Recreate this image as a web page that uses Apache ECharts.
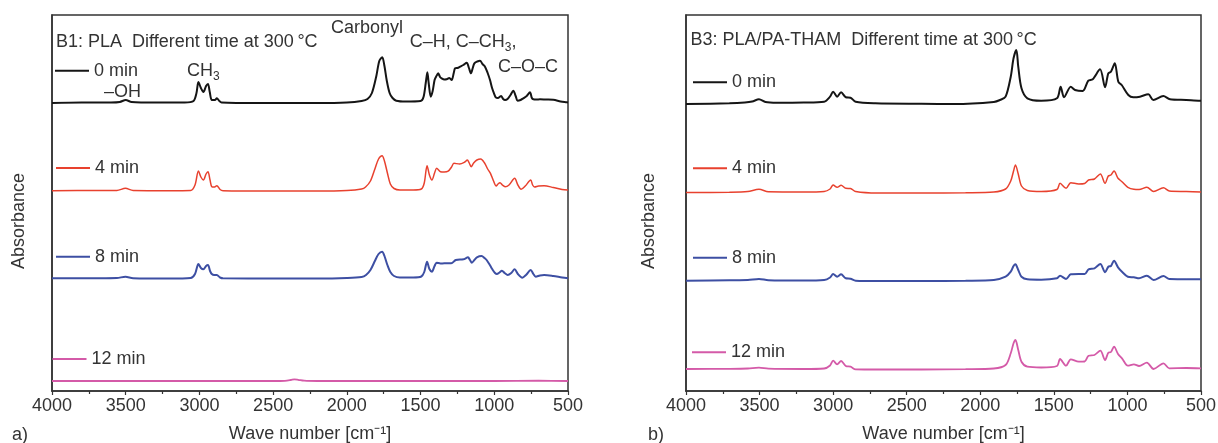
<!DOCTYPE html>
<html>
<head>
<meta charset="utf-8">
<script src="https://cdn.jsdelivr.net/npm/echarts@6/dist/echarts.min.js"></script>
<style>
html,body{margin:0;padding:0;background:#fff;}
#c{width:1218px;height:443px;}
</style>
</head>
<body>
<div id="c"></div>
<script>
// x ticks (wave number, cm-1)
const xTicks = [4000, 3500, 3000, 2500, 2000, 1500, 1000, 500];
const seriesNames = ['0 min', '4 min', '8 min', '12 min'];
const seriesColors = ['#151515', '#e8412e', '#3d4fa3', '#d45aa8'];

// Panel a: PLA, [wave number, absorbance (offset, a.u.)]
const plaMin0 = [[4000,288],[3800,288.5],[3600,288.5],[3540,289],[3500,291],[3460,289],[3300,288.5],[3100,288.5],[3040,290],[3020,298],[3007,309],[2990,303],[2973,299],[2955,305],[2942,307],[2930,299],[2916,291],[2895,291],[2882,292.7],[2865,290],[2850,288.5],[2600,288],[2400,288],[2200,288],[2000,288.5],[1900,290],[1860,292],[1830,298],[1800,315],[1780,330],[1760,333.7],[1745,325],[1730,311],[1710,298],[1690,293],[1665,290.3],[1600,289.5],[1500,290],[1480,294],[1465,308],[1454,318.7],[1445,308],[1431,294.3],[1418,300],[1405,311],[1395,314.3],[1380,317.7],[1368,314],[1357,312.7],[1340,311.5],[1323,311.7],[1305,313],[1289,311],[1275,318],[1266,322.7],[1250,323],[1232,324.3],[1210,326],[1187,328.3],[1172,323],[1158,317.7],[1146,323],[1135,327.7],[1115,329.5],[1097,330.3],[1080,327],[1063,324.3],[1045,318],[1029,311],[1015,303],[1002,297.7],[990,293.7],[975,293],[962,294.3],[954,295],[940,292],[927,291],[910,292],[890,296],[871,300.3],[855,295],[842,290.3],[822,291],[803,292.7],[780,295],[758,298.7],[745,293],[735,291.7],[715,291.5],[690,291.7],[650,291.5],[600,291.3],[550,289.5],[509,288.7],[500,288.5]];
const plaMin4 = [[4000,200.3],[3700,200.5],[3560,200.5],[3502,202.7],[3450,200.5],[3200,200.3],[3060,200.5],[3030,206],[3007,220],[2990,214],[2973,211],[2955,217],[2942,219.3],[2928,211],[2916,204.3],[2900,204],[2882,205.3],[2860,201.5],[2840,200.3],[2500,200],[2200,200],[2000,200.5],[1900,202],[1873,204],[1840,210],[1810,222],[1785,232],[1761,235.3],[1745,230],[1725,218],[1705,207],[1680,202.5],[1640,201],[1550,201],[1495,202],[1475,208],[1456,225.3],[1440,216],[1423,211],[1405,218],[1391,222.7],[1365,219.3],[1340,219],[1313,219.8],[1290,224],[1274,227.7],[1235,227],[1200,229],[1183,231],[1170,228],[1157,224.3],[1140,228],[1118,231],[1092,232],[1066,228],[1045,222],[1026,217.7],[1005,210],[987,205],[975,207],[961,208.3],[945,206],[927,204.3],[900,206],[862,212.7],[840,206],[818,201.7],[790,205],[753,211],[740,206],[727,204],[700,205],[662,205.3],[600,203.5],[540,201.5],[500,201]];
const plaMin8 = [[4000,112.7],[3700,112.8],[3560,113],[3502,114.3],[3450,112.8],[3200,112.5],[3060,113],[3030,117],[3007,127],[2990,123],[2973,121.7],[2955,125],[2942,126],[2928,120],[2916,117],[2900,116],[2882,116],[2860,113.5],[2840,112.7],[2500,112.5],[2200,112.5],[2000,113],[1900,114],[1870,116],[1840,121],[1810,130],[1785,137],[1761,139.3],[1745,135],[1725,126],[1705,119],[1680,115],[1640,113.5],[1550,113.5],[1495,114.5],[1475,119],[1456,129.3],[1440,122],[1423,119.3],[1405,125],[1391,128.3],[1365,127.5],[1339,127.7],[1292,127.7],[1261,131],[1209,131.7],[1178,133.7],[1165,131],[1152,128.3],[1135,131],[1118,133.7],[1086,135],[1066,133],[1052,131],[1030,126],[1013,121.7],[995,118],[982,117],[965,118.5],[948,120.3],[930,118],[909,116],[885,118],[862,121.7],[840,117],[810,113.3],[785,116],[753,121],[735,117],[719,114.3],[690,115.5],[662,116],[600,115],[540,113.5],[500,112.7]];
const plaMin12 = [[4000,10],[3500,10],[3000,10],[2500,10],[2420,10.2],[2380,11],[2356,11.7],[2330,11.2],[2290,10.3],[2200,10],[1800,10],[1500,10],[1000,10],[700,10.3],[500,10]];

// Panel b: PLA/PA-THAM
const thamMin0 = [[4000,287],[3705,287.7],[3600,288.5],[3550,289.5],[3504,291.7],[3460,289],[3383,288.3],[3200,288.5],[3061,289.3],[3021,294.3],[3000,299.3],[2973,294.3],[2946,298.7],[2914,293.7],[2882,293.3],[2847,289.3],[2713,287.7],[2400,287.2],[2176,287],[1908,289],[1866,291],[1828,294.3],[1793,314.3],[1774,332.7],[1755,341],[1742,324.3],[1720,302.7],[1680,292.7],[1586,290.3],[1479,292.7],[1454,304.3],[1431,293.7],[1385,304.3],[1356,301],[1304,300],[1266,310.3],[1236,311.7],[1186,321.7],[1152,303.7],[1130,317.7],[1112,319.3],[1086,327.7],[1062,309.3],[1039,306],[994,296],[960,293.7],[915,294.3],[858,296.7],[824,291],[756,295],[711,291.7],[600,291],[507,290.3],[500,290.3]];
const thamMin4 = [[4000,198.5],[3705,198.8],[3580,199.5],[3504,201.7],[3440,199.2],[3200,199],[3061,199.5],[3021,202],[3000,206],[2973,203.7],[2946,205.7],[2914,202.7],[2882,202.5],[2847,199.5],[2700,198],[2400,198],[2100,198.3],[1908,199],[1828,202],[1793,210],[1774,220],[1761,226],[1742,217],[1720,205],[1680,200.5],[1586,199.5],[1479,201.5],[1458,207.7],[1417,202.7],[1385,208.3],[1331,207],[1291,207.5],[1264,211],[1224,212],[1184,217],[1152,207.7],[1130,215],[1112,216],[1091,220],[1064,212.7],[1037,209.3],[997,203.7],[956,201.7],[921,201.5],[868,203.7],[822,199.5],[755,203.3],[715,200],[600,199.5],[500,199]];
const thamMin8 = [[4000,110.3],[3705,110.8],[3580,111],[3504,112],[3440,110.8],[3200,110.5],[3061,111],[3021,113.5],[3000,117],[2973,114.3],[2946,116.7],[2914,112.7],[2882,112.3],[2847,110.3],[2700,110],[2400,110],[2100,110.3],[1908,111],[1828,114.3],[1793,119.3],[1774,125],[1761,126.7],[1742,121],[1720,114.3],[1680,111.7],[1586,111.3],[1479,112.7],[1458,115.3],[1417,112],[1385,116.7],[1331,117],[1291,117],[1264,121.7],[1224,122.7],[1184,127],[1152,118.7],[1130,124.3],[1112,125],[1091,130.3],[1064,123.7],[1037,119.3],[997,114.3],[956,113.7],[921,112.7],[868,115.3],[822,111],[755,115],[715,112],[600,111.8],[500,111.7]];
const thamMin12 = [[4000,22],[3705,22.2],[3580,22.5],[3504,23.3],[3440,22.3],[3200,22],[3061,22.5],[3021,25.5],[3000,30.3],[2973,26.7],[2946,30],[2914,25],[2882,24.3],[2847,21.7],[2700,21.5],[2400,21.5],[2100,21.8],[1908,22.5],[1828,26],[1793,37.7],[1774,47.7],[1761,51],[1742,41],[1720,29.3],[1680,24.3],[1586,23.5],[1479,25],[1458,32],[1417,25.3],[1385,31.7],[1331,29.3],[1291,29.5],[1264,35.3],[1224,36],[1184,40.3],[1152,31],[1130,38.3],[1112,39],[1091,44.3],[1064,37],[1037,32.7],[997,25.3],[956,26.7],[921,25],[868,28.3],[822,22],[755,27.7],[715,22.7],[600,23],[500,22.7]];

const panelA = [plaMin0, plaMin4, plaMin8, plaMin12];
const panelB = [thamMin0, thamMin4, thamMin8, thamMin12];
const lineWidths = [2, 1.5, 2, 1.8];

const FONT = '"Liberation Sans", Arial, Helvetica, sans-serif';
const TXT = '#333';

function xAxisFor(gi) {
  return {
    gridIndex: gi, type: 'value', inverse: true, min: 500, max: 4000, interval: 500,
    axisLine: { show: true, onZero: false, lineStyle: { color: '#333', width: 1.5 } },
    axisTick: { show: true, length: 4, lineStyle: { color: '#333', width: 1.2 } },
    minorTick: { show: true, splitNumber: 2, length: 3, lineStyle: { color: '#333', width: 1.2 } },
    splitLine: { show: false },
    axisLabel: { fontSize: 18, color: TXT, fontFamily: FONT, margin: 6,
      formatter: v => (xTicks.indexOf(v) >= 0 ? String(v) : '') },
    name: 'Wave number [cm\u207B\u00B9]', nameLocation: 'middle', nameGap: 34,
    nameTextStyle: { fontSize: 18, color: TXT, fontFamily: FONT }
  };
}
function yAxisFor(gi) {
  return {
    gridIndex: gi, type: 'value', min: 0, max: 376,
    axisLine: { show: true, lineStyle: { color: '#333', width: 1.5 } },
    axisTick: { show: false }, axisLabel: { show: false }, splitLine: { show: false }
  };
}

const series = [];
[panelA, panelB].forEach((panel, gi) => {
  panel.forEach((data, k) => {
    series.push({
      name: seriesNames[k], type: 'line', xAxisIndex: gi, yAxisIndex: gi,
      data: data, showSymbol: false, symbol: 'none', smooth: 0.3,
      lineStyle: { color: seriesColors[k], width: lineWidths[k] },
      itemStyle: { color: seriesColors[k] }, animation: false
    });
  });
});

const legendPos = [
  [55, 70.7], [56, 168], [56, 256.7], [52.5, 359],
  [693, 82.3], [693, 168.3], [693, 257.7], [692, 352.3]
];
const legends = legendPos.map((p, i) => ({
  data: [seriesNames[i % 4]], left: p[0], top: p[1] - 10, padding: 0,
  itemWidth: 34, itemHeight: 2, icon: 'rect', selectedMode: false,
  textStyle: { fontSize: 18, color: TXT, fontFamily: FONT, lineHeight: 20 }
}));

function txt(x, y, text, extra) {
  return Object.assign({ type: 'text', x: x, y: y, silent: true,
    style: { text: text, fontSize: 18, fontFamily: FONT, fill: TXT, align: 'left', verticalAlign: 'middle',
      rich: { n: { fontSize: 18, fontFamily: FONT, fill: TXT, lineHeight: 24 },
              s: { fontSize: 12, fontFamily: FONT, fill: TXT, lineHeight: 12, verticalAlign: 'bottom' } } } }, extra || {});
}

const gridBase = { top: 15, height: 376, show: true, borderColor: '#333', borderWidth: 1.5,
  containLabel: false, outerBoundsMode: 'none' };

const option = {
  backgroundColor: '#fff',
  animation: false,
  grid: [
    Object.assign({ left: 52, width: 516 }, gridBase),
    Object.assign({ left: 686, width: 515 }, gridBase)
  ],
  xAxis: [xAxisFor(0), xAxisFor(1)],
  yAxis: [yAxisFor(0), yAxisFor(1)],
  legend: legends,
  series: series,
  graphic: [
    txt(56, 41.7, 'B1: PLA  Different time at 300\u2009°C'),
    txt(331, 28.3, 'Carbonyl'),
    txt(409.7, 41.7, '{n|C\u2013H, C\u2013CH}{s|3}{n|,}'),
    txt(498, 67.5, 'C\u2013O\u2013C'),
    txt(187, 70.7, '{n|CH}{s|3}'),
    txt(104, 91.7, '\u2013OH'),
    txt(690.5, 40, 'B3: PLA/PA-THAM  Different time at 300\u2009°C'),
    txt(12, 435, 'a)'),
    txt(648, 435, 'b)'),
    { type: 'text', x: 19, y: 221, rotation: Math.PI / 2, silent: true,
      style: { text: 'Absorbance', fontSize: 18, fontFamily: FONT, fill: TXT, align: 'center', verticalAlign: 'middle' } },
    { type: 'text', x: 649, y: 221, rotation: Math.PI / 2, silent: true,
      style: { text: 'Absorbance', fontSize: 18, fontFamily: FONT, fill: TXT, align: 'center', verticalAlign: 'middle' } }
  ]
};

const chart = echarts.init(document.getElementById('c'), null, { renderer: 'canvas' });
chart.setOption(option);
</script>
</body>
</html>
